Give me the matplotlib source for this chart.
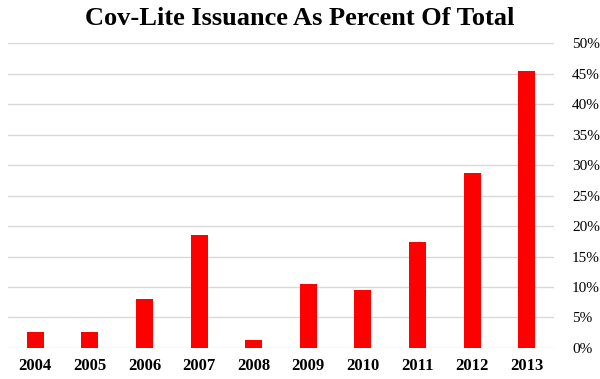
import matplotlib
matplotlib.use("Agg")
import matplotlib.pyplot as plt
from matplotlib.ticker import FuncFormatter

years = ["2004", "2005", "2006", "2007", "2008", "2009", "2010", "2011", "2012", "2013"]
pct = [2.6, 2.7, 8.0, 18.5, 1.3, 10.5, 9.5, 17.4, 28.7, 45.4]
yticks = [0, 5, 10, 15, 20, 25, 30, 35, 40, 45, 50]

plt.rcParams["font.family"] = ["Liberation Serif", "DejaVu Serif"]

fig = plt.figure(figsize=(6, 3.79), dpi=100)
ax = fig.add_axes([0.0133, 0.0818, 0.91, 0.8047])

x = range(len(years))
ax.bar(x, pct, width=0.31, color="#ff0000", zorder=3)

ax.set_xlim(-0.5, len(years) - 0.5)
ax.set_ylim(0, 50)
ax.set_yticks(yticks)
ax.yaxis.set_major_formatter(FuncFormatter(lambda v, p: f"{int(v)}%"))
ax.yaxis.tick_right()
ax.grid(axis="y", color="#d9d9d9", linewidth=1, zorder=0)
ax.set_xticks(list(x))
ax.set_xticklabels(years, fontsize=12, fontweight="bold")
ax.tick_params(axis="y", length=0, pad=13, labelsize=11)
ax.tick_params(axis="x", length=0, pad=7)
for s in ax.spines.values():
    s.set_visible(False)

fig.text(0.5, 0.95, "Cov-Lite Issuance As Percent Of Total", ha="center", va="center",
         fontsize=19, fontweight="bold")

fig.savefig("out.png", dpi=100)
